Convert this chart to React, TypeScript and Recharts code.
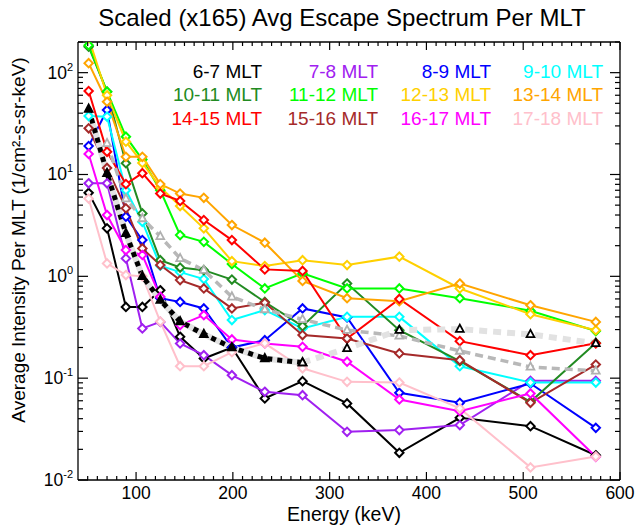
import React from 'react';
import { LineChart, Line, XAxis, YAxis, ReferenceLine } from 'recharts';

// Energy channels (keV)
const energy = [51, 70, 89.5, 106.5, 125, 145.5, 170, 199, 233, 272, 318, 372, 434.5, 507.5, 575];

// Scaled intensities per MLT sector
const mlt6_7 = [6.6, 2.96, 0.5, 0.5, 0.73, 0.255, 0.156, 0.2, 0.0633, 0.0935, 0.0565, 0.0185, 0.0408, 0.0338, 0.0175];
const mlt7_8 = [8.2, 8.2, 1.5, 0.308, 0.357, 0.219, 0.168, 0.107, 0.0735, 0.068, 0.0297, 0.0309, 0.0346, 0.0942, 0.0942];
const mlt8_9 = [19, 43, 3.85, 2.27, 0.61, 0.56, 0.484, 0.2, 0.236, 0.484, 0.395, 0.0718, 0.0573, 0.0887, 0.0325];
const mlt9_10 = [37.5, 37, 7.0, 3.43, 1.27, 1.1, 0.94, 0.372, 0.466, 0.308, 0.4, 0.4, 0.131, 0.0906, 0.0906];
const mlt10_11 = [180, 65, 12.9, 4.15, 1.44, 1.22, 1.15, 0.93, 0.56, 0.324, 0.85, 0.296, 0.147, 0.0586, 0.222];
const mlt11_12 = [186, 65, 23.5, 14, 7, 2.54, 2.18, 1.32, 0.76, 1.07, 0.76, 0.76, 0.61, 0.46, 0.29];
const mlt12_13 = [220, 60, 21, 13, 7.5, 4.9, 2.96, 1.41, 1.26, 1.44, 1.29, 1.56, 0.76, 0.425, 0.296];
const mlt13_14 = [124, 51.8, 14.9, 14.9, 8.05, 6.5, 5.9, 3.19, 2.14, 0.9, 0.61, 0.57, 0.85, 0.52, 0.357];
const mlt14_15 = [66, 16.7, 8.05, 10.3, 6.5, 5.5, 3.57, 2.27, 1.17, 1.13, 0.245, 0.6, 0.231, 0.168, 0.22];
const mlt15_16 = [28.4, 11.6, 4.65, 1.88, 1.29, 0.918, 0.76, 0.484, 0.55, 0.265, 0.245, 0.175, 0.15, 0.0573, 0.136];
const mlt16_17 = [15.9, 4.0, 1.81, 1.62, 0.63, 0.332, 0.416, 0.24, 0.219, 0.203, 0.145, 0.0618, 0.0474, 0.0708, 0.0169];
const mlt17_18 = [5.8, 1.34, 1.03, 1.0, 0.36, 0.131, 0.131, 0.18, 0.22, 0.125, 0.092, 0.0906, 0.0505, 0.0133, 0.017];

// Average spectra
const avgA = [44, 10.3, 2.64, 1.0, 0.585, 0.36, 0.27, 0.2, 0.156, 0.142, 0.196, 0.296, 0.303, 0.269, 0.22];
const avgB = [null, 20.2, 5.8, 3.7, 2.47, 1.5, 1.15, 0.63, 0.473, 0.378, 0.296, 0.26, 0.185, 0.129, 0.118];
const avgSplitIndex = 9;

const seriesLabels = ['6-7 MLT', '7-8 MLT', '8-9 MLT', '9-10 MLT', '10-11 MLT', '11-12 MLT', '12-13 MLT', '13-14 MLT', '14-15 MLT', '15-16 MLT', '16-17 MLT', '17-18 MLT'];
const seriesColors = ['#000000', '#a020f0', '#0000ff', '#00ffff', '#228b22', '#00ff00', '#ffd000', '#ffa500', '#ff0000', '#a52a2a', '#ff00ff', '#ffc0cb'];
const seriesValues = [mlt6_7, mlt7_8, mlt8_9, mlt9_10, mlt10_11, mlt11_12, mlt12_13, mlt13_14, mlt14_15, mlt15_16, mlt16_17, mlt17_18];

const xMajorTicks = [100, 200, 300, 400, 500, 600];
const xTicks = Array.from({ length: 56 }, (_, i) => 50 + i * 10);
const yDecades = [0.01, 0.1, 1, 10, 100];
const yTicks = yDecades.flatMap((d) => [1, 2, 3, 4, 5, 6, 7, 8, 9].map((m) => +(d * m).toPrecision(3))).filter((v) => v <= 200);

const FONT = '"Liberation Sans", Arial, Helvetica, sans-serif';
const PLOT_W = 542;
const PLOT_H = 438;

const data = energy.map((e, i) => {
  const row: any = { energy: e };
  seriesValues.forEach((vals, s) => {
    row['s' + s] = vals[i];
  });
  row.a1 = i <= avgSplitIndex ? avgA[i] : null;
  row.a2 = i >= avgSplitIndex ? avgA[i] : null;
  row.b = avgB[i];
  return row;
});

const makeDiamond = (color: string) => (props: any) => {
  const { cx, cy, index, value } = props;
  if (cx == null || cy == null || value == null) return <g key={`dd${index}`} />;
  const r = 4.2;
  return (
    <path
      key={`d${index}`}
      d={`M${cx},${cy - r}L${cx + r},${cy}L${cx},${cy + r}L${cx - r},${cy}Z`}
      fill="#ffffff"
      stroke={color}
      strokeWidth={2}
    />
  );
};

const makeTriangle = (fill: string, stroke: string) => (props: any) => {
  const { cx, cy, index, value } = props;
  if (cx == null || cy == null || value == null) return <g key={`tt${index}`} />;
  return (
    <path
      key={`t${index}`}
      d={`M${cx},${cy - 4.5}L${cx + 3.9},${cy + 2.8}L${cx - 3.9},${cy + 2.8}Z`}
      fill={fill}
      stroke={stroke}
      strokeWidth={1.8}
      strokeLinejoin="miter"
    />
  );
};

const XTick = (props: any) => {
  const { x, y, payload } = props;
  const v = payload.value;
  const major = xMajorTicks.includes(v);
  const len = major ? 8 : 4;
  return (
    <g>
      <line x1={x} x2={x} y1={y} y2={y - len} stroke="#000" strokeWidth={1.2} />
      <line x1={x} x2={x} y1={y - PLOT_H} y2={y - PLOT_H + len} stroke="#000" strokeWidth={1.2} />
      {major && (
        <text x={x} y={y + 19} textAnchor="middle" fontSize={17.5} fontFamily={FONT} fill="#000">
          {v}
        </text>
      )}
    </g>
  );
};

const YTick = (props: any) => {
  const { x, y, payload } = props;
  const v = payload.value;
  const lg = Math.log10(v);
  const major = Math.abs(lg - Math.round(lg)) < 1e-6;
  const len = major ? 10 : 5;
  return (
    <g>
      <line x1={x} x2={x + len} y1={y} y2={y} stroke="#000" strokeWidth={1.2} />
      <line x1={x + PLOT_W} x2={x + PLOT_W - len} y1={y} y2={y} stroke="#000" strokeWidth={1.2} />
      {major && (
        <text x={x - 5} y={y + 6} textAnchor="end" fontFamily={FONT} fill="#000">
          <tspan fontSize={17.5}>10</tspan>
          <tspan fontSize={11} dy={-8}>{String(Math.round(lg))}</tspan>
        </text>
      )}
    </g>
  );
};

const legendCols = [262, 378, 491, 603];
const legendRows = [78, 101, 125];

export default function App() {
  return (
    <div style={{ position: 'absolute', left: 0, top: 0, width: 638, height: 531, background: '#fff' }}>
      <LineChart width={638} height={531} data={data} margin={{ top: 42, right: 18, left: 0, bottom: 0 }}>
        <XAxis
          dataKey="energy"
          type="number"
          domain={[40, 600]}
          ticks={xTicks}
          interval={0}
          tick={<XTick />}
          tickSize={0}
          tickMargin={0}
          height={51}
          axisLine={{ stroke: '#000', strokeWidth: 1.3 }}
          allowDataOverflow
        />
        <YAxis
          type="number"
          scale="log"
          domain={[0.01, 200]}
          ticks={yTicks}
          interval={0}
          tick={<YTick />}
          tickSize={0}
          tickMargin={0}
          width={78}
          axisLine={{ stroke: '#000', strokeWidth: 1.3 }}
          allowDataOverflow
        />
        <ReferenceLine y={200} stroke="#000" strokeWidth={1.3} ifOverflow="extendDomain" />
        <ReferenceLine x={600} stroke="#000" strokeWidth={1.3} ifOverflow="extendDomain" />
        {seriesValues.map((_, s) => (
          <Line
            key={'s' + s}
            dataKey={'s' + s}
            type="linear"
            stroke={seriesColors[s]}
            strokeWidth={2}
            dot={makeDiamond(seriesColors[s])}
            isAnimationActive={false}
          />
        ))}
        <Line dataKey="b" type="linear" stroke="#b8b8b8" strokeWidth={3.5} strokeDasharray="8 5" dot={makeTriangle('#ffffff', '#b0b0b0')} isAnimationActive={false} />
        <Line dataKey="a1" type="linear" stroke="#e2e2e2" strokeWidth={6} dot={false} isAnimationActive={false} />
        <Line dataKey="a1" type="linear" stroke="#000000" strokeWidth={5} strokeDasharray="5 5" dot={makeTriangle('#000000', '#000000')} isAnimationActive={false} />
        <Line dataKey="a2" type="linear" stroke="#e2e2e2" strokeWidth={6} strokeDasharray="8 6" dot={makeTriangle('#ffffff', '#000000')} isAnimationActive={false} />
      </LineChart>
      <svg width={638} height={531} style={{ position: 'absolute', left: 0, top: 0, pointerEvents: 'none' }}>
        <text x={342} y={26} textAnchor="middle" fontSize={24} fontFamily={FONT} fill="#000">
          Scaled (x165) Avg Escape Spectrum Per MLT
        </text>
        <text x={344} y={521} textAnchor="middle" fontSize={19.5} fontFamily={FONT} fill="#000">
          Energy (keV)
        </text>
        <text x={25} y={240} transform="rotate(-90 25 240)" textAnchor="middle" fontSize={19} fontFamily={FONT} fill="#000">
          Average Intensity Per MLT (1/cm²-s-sr-keV)
        </text>
        {seriesLabels.map((lab, i) => (
          <text
            key={lab}
            x={legendCols[i % 4]}
            y={legendRows[Math.floor(i / 4)]}
            textAnchor="end"
            fontSize={19}
            fontFamily={FONT}
            fill={seriesColors[i]}
          >
            {lab}
          </text>
        ))}
      </svg>
    </div>
  );
}
